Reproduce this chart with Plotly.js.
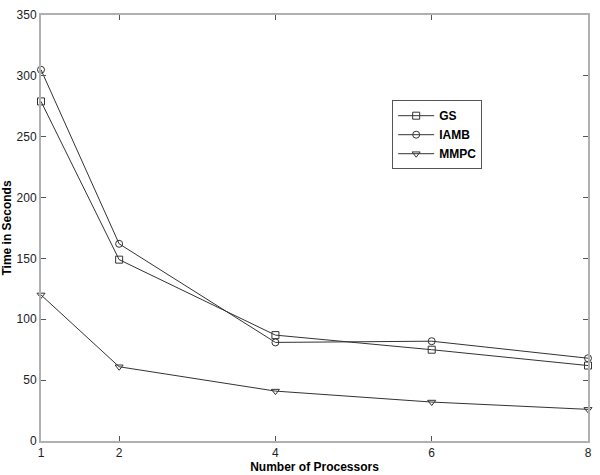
<!DOCTYPE html>
<html><head><meta charset="utf-8">
<script src="https://cdn.plot.ly/plotly-3.0.1.min.js"></script>
<style>body{margin:0;padding:0;background:#fff}#chart{width:600px;height:475px}</style>
</head><body><div id="chart"></div>
<script>
const processors = [1, 2, 4, 6, 8];
const gs = [279, 149, 87, 75, 62];
const iamb = [305, 162, 81, 82, 68];
const mmpc = [120, 61, 41, 32, 26];
const xTicks = [1, 2, 4, 6, 8];
const yTicks = [0, 50, 100, 150, 200, 250, 300, 350];

const lineStyle = {color: '#333333', width: 1};
function tr(name, y, symbol) {
  return {x: processors, y: y, name: name, type: 'scatter', mode: 'lines+markers', cliponaxis: false,
    line: lineStyle, marker: {symbol: symbol, size: 7, color: '#333333', line: {color: '#333333', width: 1}}};
}
const data = [tr('GS', gs, 'square-open'), tr('IAMB', iamb, 'circle-open'), tr('MMPC', mmpc, 'triangle-down-open')];
const axisCommon = {showgrid: false, zeroline: false, showline: true, linecolor: '#b0b0b0', linewidth: 2,
  mirror: 'ticks', ticks: 'inside', ticklen: 5, tickcolor: '#555', tickfont: {family: 'Liberation Sans, Arial', size: 12, color: '#222'}};
const layout = {
  width: 600, height: 475, margin: {l: 41, r: 12, t: 15, b: 34},
  paper_bgcolor: '#fff', plot_bgcolor: '#fff', showlegend: true,
  xaxis: Object.assign({}, axisCommon, {range: [1, 8], tickvals: xTicks, ticktext: xTicks.map(String),
    title: {text: '<b>Number of Processors</b>', font: {family: 'Liberation Sans, Arial', size: 12, color: '#000'}, standoff: 0}}),
  yaxis: Object.assign({}, axisCommon, {range: [0, 350], tickvals: yTicks,
    title: {text: '<b>Time in Seconds</b>', font: {family: 'Liberation Sans, Arial', size: 12, color: '#000'}, standoff: 2}}),
  legend: {x: 0.642, y: 0.80, xanchor: 'left', yanchor: 'top', bordercolor: '#555', borderwidth: 1, bgcolor: '#fff',
    font: {family: 'Liberation Sans, Arial', size: 12, color: '#000', weight: 'bold'}, tracegroupgap: 0, itemwidth: 36}
};
Plotly.newPlot('chart', data, layout, {displayModeBar: false, staticPlot: true});
</script></body></html>
